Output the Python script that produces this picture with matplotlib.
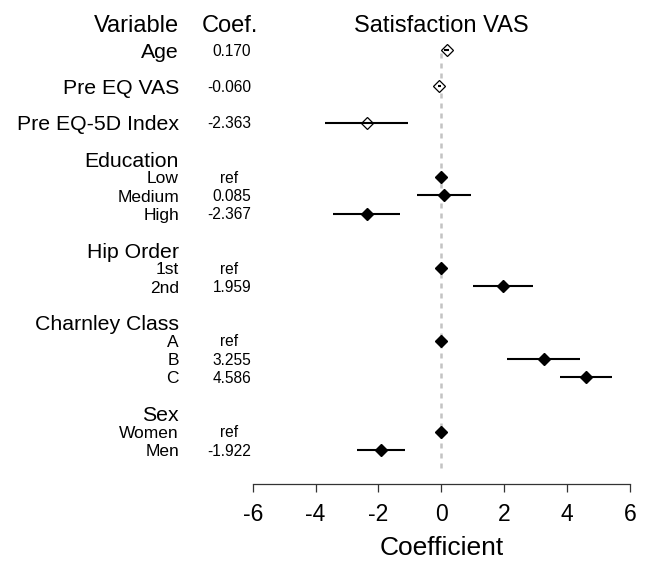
import matplotlib
matplotlib.use("Agg")
import matplotlib.pyplot as plt
from matplotlib.transforms import blended_transform_factory, offset_copy

plt.rcParams['font.family'] = ['Liberation Sans', 'DejaVu Sans']

# ---------------- data ----------------
title = "Satisfaction VAS"
continuous_vars = ["Age", "Pre EQ VAS", "Pre EQ-5D Index"]
continuous_coef = [0.170, -0.060, -2.363]
continuous_lo = [0.10, -0.11, -3.70]
continuous_hi = [0.24, -0.01, -1.05]

groups = ["Education", "Hip Order", "Charnley Class", "Sex"]
group_levels = [["Low", "Medium", "High"], ["1st", "2nd"], ["A", "B", "C"], ["Women", "Men"]]
group_coef = [[None, 0.085, -2.367], [None, 1.959], [None, 3.255, 4.586], [None, -1.922]]
group_lo = [[None, -0.78, -3.44], [None, 1.00], [None, 2.10, 3.76], [None, -2.69]]
group_hi = [[None, 0.94, -1.32], [None, 2.91], [None, 4.42, 5.43], [None, -1.15]]

xticks = [-6, -4, -2, 0, 2, 4, 6]
xlabel = "Coefficient"

# ---------------- layout ----------------
W, H = 648, 561
DPI = 100
fig = plt.figure(figsize=(W / DPI, H / DPI), dpi=DPI)

px_row0 = 50.0
px_per_row = 18.18
def row_of(px):
    return (px - px_row0) / px_per_row

ax_left, ax_right = 252.7, 630.0
ax_top, ax_bottom = 30.0, 484.0
ax = fig.add_axes([ax_left / W, 1 - ax_bottom / H, (ax_right - ax_left) / W, (ax_bottom - ax_top) / H])
ax.set_xlim(-6, 6)
ax.set_ylim(row_of(ax_bottom), row_of(ax_top))

for s in ["top", "right", "left"]:
    ax.spines[s].set_visible(False)
ax.spines["bottom"].set_color("#333333")
ax.spines["bottom"].set_linewidth(0.9)
ax.spines["bottom"].set_bounds(-6, 6)
ax.set_yticks([])
ax.set_xticks(xticks)
ax.set_xticklabels([str(t) for t in xticks])
ax.tick_params(axis="x", direction="out", length=6, width=0.9, color="#333333",
               labelsize=16.5, pad=8.0)
ax.set_xlabel(xlabel, fontsize=19, labelpad=7)

trans = blended_transform_factory(fig.transFigure, ax.transData)
x_label = 179.0 / W
x_coef_right = 251.0 / W
x_ref_center = 229.5 / W

top_fs = 17
head_fs = 15.3
sub_fs = 12.5
coef_fs = 11.2

def put(x, row, s, fs, ha, base=trans):
    # place text so that its cap height is centred on the row
    t = offset_copy(base, fig=fig, y=-0.716 * fs / 2.0, units="points")
    ax.text(x, row, s, transform=t, ha=ha, va="baseline", fontsize=fs)

header_row = row_of(24)
put(x_label, header_row, "Variable", top_fs, "right")
put(229.7 / W, header_row, "Coef.", top_fs, "center")
put(0, header_row, title, top_fs, "center", base=ax.transData)

# vertical reference line
ax.plot([0, 0], [0.15, 23.0], color="#C3C3C3", lw=1.8, ls=(0, (2, 2)), zorder=0)

def draw_point(row, est, lo, hi, open_marker):
    if open_marker:
        ax.plot([est], [row], marker="D", ms=6, mfc="white", mec="black", mew=0.9, zorder=3)
        if lo is not None:
            ax.plot([lo, hi], [row, row], color="black", lw=1.5, zorder=4, solid_capstyle="butt")
    else:
        if lo is not None:
            ax.plot([lo, hi], [row, row], color="black", lw=1.5, zorder=2, solid_capstyle="butt")
        ax.plot([est], [row], marker="D", ms=6.2, mfc="black", mec="black", zorder=3)

row = 0
for i, name in enumerate(continuous_vars):
    put(x_label, row, name, head_fs, "right")
    put(x_coef_right, row, f"{continuous_coef[i]:.3f}", coef_fs, "right")
    draw_point(row, continuous_coef[i], continuous_lo[i], continuous_hi[i], True)
    if i < len(continuous_vars) - 1:
        row += 2
row += 2
for g, gname in enumerate(groups):
    put(x_label, row, gname, head_fs, "right")
    row += 1
    for j, lev in enumerate(group_levels[g]):
        put(x_label, row, lev, sub_fs, "right")
        c = group_coef[g][j]
        if c is None:
            put(x_ref_center, row, "ref", coef_fs, "center")
            draw_point(row, 0.0, None, None, False)
        else:
            put(x_coef_right, row, f"{c:.3f}", coef_fs, "right")
            draw_point(row, c, group_lo[g][j], group_hi[g][j], False)
        row += 1
    row += 1

fig.savefig("out.png", dpi=DPI)
